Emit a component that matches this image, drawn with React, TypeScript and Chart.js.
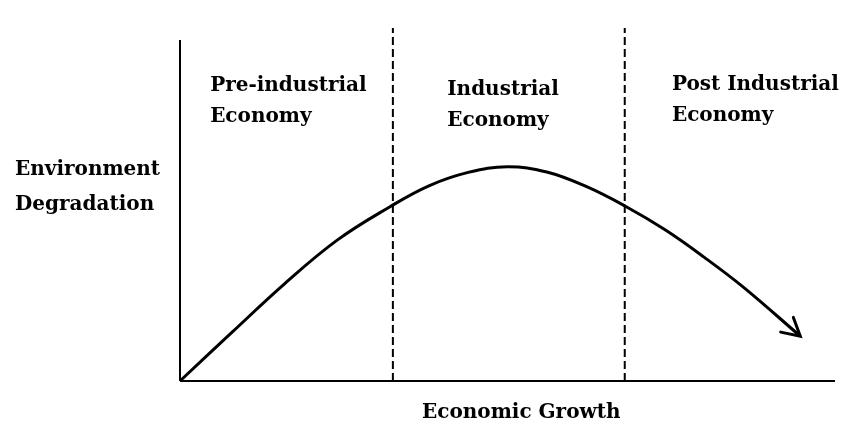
import React, { useEffect, useRef } from "react";
import { Chart, registerables } from "chart.js";

Chart.register(...registerables);

// Curve (Environmental Kuznets curve), data units: x 0..100, y 0..100
const curveX = [0, 8, 16, 24, 32, 38, 44, 50, 56, 62, 68, 74, 80, 86, 94.7];
const curveY = [0, 13.9, 27.6, 39.9, 49.3, 55.3, 59.1, 60.7, 59.2, 55.1, 49.5, 42.9, 35.1, 26.6, 12.7];

// Stage boundaries (dashed lines) on the x axis
const boundaries = [32.5, 67.9];
const yAxisTop = 96.6;

// Region labels
const regionLabels = [
  ["Pre-industrial", "Economy"],
  ["Industrial", "Economy"],
  ["Post Industrial", "Economy"],
];
const regionLabelX = [4.6, 40.8, 75.1];
const regionLabelY = [82.2, 81.0, 82.4];

const yTitle = ["Environment", "Degradation"];
const xTitle = "Economic Growth";

const FONT = "bold 20px 'DejaVu Serif', serif";

export default function App() {
  const ref = useRef<HTMLCanvasElement | null>(null);

  useEffect(() => {
    if (!ref.current) return;

    const arrowPlugin = {
      id: "arrowHead",
      afterDatasetsDraw(chart: any) {
        const meta = chart.getDatasetMeta(0);
        const pts = meta.data;
        if (pts.length < 2) return;
        const a = pts[pts.length - 2];
        const b = pts[pts.length - 1];
        const ang = Math.atan2(b.y - a.y, b.x - a.x);
        const len = 20;
        const spread = (29 * Math.PI) / 180;
        const ctx = chart.ctx;
        ctx.save();
        ctx.strokeStyle = "#000";
        ctx.lineWidth = 3;
        ctx.lineCap = "round";
        ctx.beginPath();
        ctx.moveTo(b.x - len * Math.cos(ang - spread), b.y - len * Math.sin(ang - spread));
        ctx.lineTo(b.x, b.y);
        ctx.lineTo(b.x - len * Math.cos(ang + spread), b.y - len * Math.sin(ang + spread));
        ctx.stroke();
        ctx.restore();
      },
    };

    const textPlugin = {
      id: "labels",
      afterDraw(chart: any) {
        const ctx = chart.ctx;
        const xs = chart.scales.x;
        const ys = chart.scales.y;
        const area = chart.chartArea;
        ctx.save();
        ctx.fillStyle = "#000";
        ctx.font = FONT;
        ctx.textBaseline = "alphabetic";
        ctx.textAlign = "left";
        const lineH = 31;
        regionLabels.forEach((lines, i) => {
          const px = xs.getPixelForValue(regionLabelX[i]);
          const py = ys.getPixelForValue(regionLabelY[i]);
          lines.forEach((t, j) => ctx.fillText(t, px, py + j * lineH));
        });
        // y title
        const yPx = ys.getPixelForValue(58.4);
        yTitle.forEach((t, j) => ctx.fillText(t, area.left - 165, yPx + j * 35));
        // x title
        ctx.fillText(xTitle, area.left + 242, area.bottom + 37);
        ctx.restore();
      },
    };

    const line = (data: { x: number; y: number }[], extra: any = {}) => ({
      data,
      showLine: true,
      borderColor: "#000",
      backgroundColor: "#000",
      borderWidth: 2,
      pointRadius: 0,
      fill: false,
      clip: false,
      ...extra,
    });

    const chart = new Chart(ref.current, {
      type: "scatter",
      data: {
        datasets: [
          line(
            curveX.map((x, i) => ({ x, y: curveY[i] })),
            { borderWidth: 3, tension: 0.4 }
          ),
          line([
            { x: 0, y: 0 },
            { x: 0, y: yAxisTop },
          ]),
          line([
            { x: 0, y: 0 },
            { x: 100, y: 0 },
          ]),
          ...boundaries.map((b) =>
            line(
              [
                { x: b, y: 0 },
                { x: b, y: 100 },
              ],
              { borderDash: [8, 4] }
            )
          ),
        ],
      },
      options: {
        animation: false,
        responsive: false,
        layout: { padding: { left: 180, right: 14, top: 28, bottom: 54 } },
        scales: {
          x: { type: "linear", min: 0, max: 100, display: false },
          y: { type: "linear", min: 0, max: 100, display: false },
        },
        plugins: {
          legend: { display: false },
          tooltip: { enabled: false },
        },
      },
      plugins: [arrowPlugin, textPlugin],
    } as any);

    return () => chart.destroy();
  }, []);

  return (
    <div style={{ position: "fixed", left: 0, top: 0, width: 849, height: 435, background: "#fff" }}>
      <canvas ref={ref} width={849} height={435} />
    </div>
  );
}
